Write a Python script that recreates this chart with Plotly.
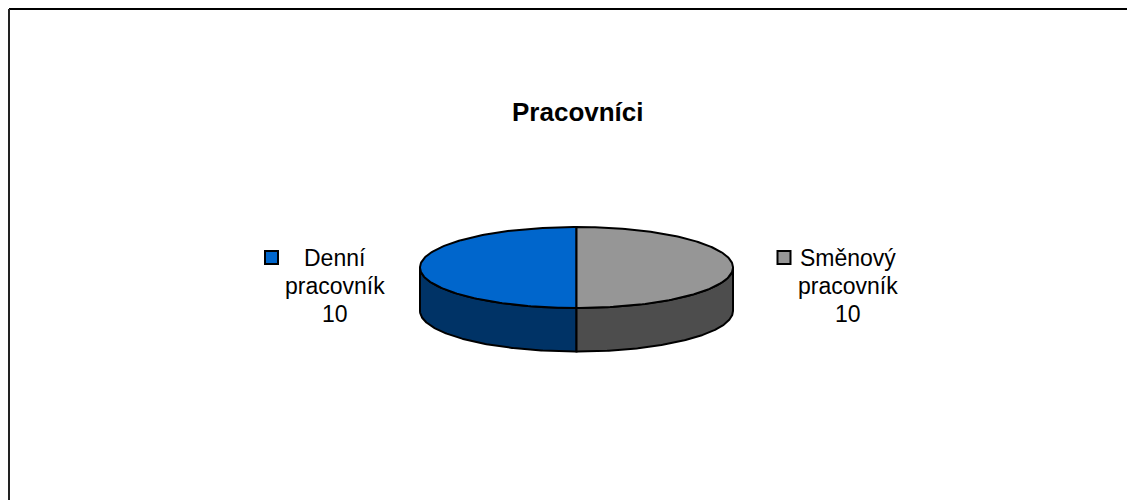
import numpy as np
import plotly.graph_objects as go

# ---- data ----
categories = ["Denní pracovník", "Směnový pracovník"]
values = [10, 10]
label_lines = [["Denní", "pracovník"], ["Směnový", "pracovník"]]
title_text = "Pracovníci"

# ---- style ----
top_colors = ["#0066CC", "#969696"]
side_colors = ["#003366", "#4D4D4D"]
FONT = "Liberation Sans, Arial, sans-serif"

W, H = 1135, 500
OFF = 8  # page body margin: axis ranges shifted so data units == screen px
CX, CY, RX, RY, DEPTH = 576.5, 267.5, 156.5, 40.5, 43.5
label_x = [335, 847.5]
label_y = [258, 286, 314]
key_pos = [(271.5, 257.5), (784, 257.5)]


def arc(a0, a1, dy=0.0, n=160):
    t = np.radians(np.linspace(a0, a1, n))
    return list(CX + RX * np.cos(t)), list(CY - RY * np.sin(t) + dy)


total = float(sum(values))
slices = []
start = 90.0
for v in values:
    sweep = 360.0 * v / total
    slices.append((start, start + sweep))
    start += sweep

fig = go.Figure()

# side walls (front-facing part: 180..360 deg)
for i, (a0, a1) in enumerate(slices):
    for k in (-1, 0, 1):
        lo, hi = 180 + 360 * k, 360 + 360 * k
        s, e = max(a0, lo), min(a1, hi)
        if e - s <= 1e-9:
            continue
        xt, yt = arc(s, e)
        xb, yb = arc(e, s, DEPTH)
        fig.add_trace(go.Scatter(
            x=xt + xb + [xt[0]], y=yt + yb + [yt[0]],
            mode="lines", fill="toself", fillcolor=side_colors[i],
            line=dict(color="black", width=2), hoverinfo="skip",
            showlegend=False))

# top faces
for i, (a0, a1) in enumerate(slices):
    xa, ya = arc(a0, a1)
    fig.add_trace(go.Scatter(
        x=[CX] + xa + [CX], y=[CY] + ya + [CY],
        mode="lines", fill="toself", fillcolor=top_colors[i],
        line=dict(color="black", width=2), name=categories[i],
        hoverinfo="name", showlegend=False))

# legend keys next to labels
for i in range(len(categories)):
    fig.add_trace(go.Scatter(
        x=[key_pos[i][0]], y=[key_pos[i][1]], mode="markers",
        marker=dict(symbol="square", size=13, color=top_colors[i],
                    line=dict(color="black", width=2)),
        hoverinfo="skip", showlegend=False))

annotations = []
for i in range(len(categories)):
    lines = label_lines[i] + [str(values[i])]
    for j, ln in enumerate(lines):
        annotations.append(dict(
            x=label_x[i], y=label_y[j], xref="x", yref="y",
            text=ln, showarrow=False, align="center",
            xanchor="center", yanchor="middle",
            font=dict(family=FONT, size=23, color="black")))

annotations.append(dict(
    x=578, y=112, xref="x", yref="y", text="<b>%s</b>" % title_text,
    showarrow=False, xanchor="center", yanchor="middle",
    font=dict(family=FONT, size=26, color="black")))

shapes = [
    dict(type="line", xref="x", yref="y", x0=9, y0=9, x1=W + OFF, y1=9,
         line=dict(color="black", width=2)),
    dict(type="line", xref="x", yref="y", x0=9, y0=9, x1=9, y1=H + OFF,
         line=dict(color="#222222", width=2)),
]

fig.update_layout(
    width=W, height=H, margin=dict(l=0, r=0, t=0, b=0),
    paper_bgcolor="white", plot_bgcolor="white",
    xaxis=dict(range=[OFF, W + OFF], visible=False, fixedrange=True),
    yaxis=dict(range=[H + OFF, OFF], visible=False, fixedrange=True),
    annotations=annotations, shapes=shapes,
    font=dict(family=FONT),
)

fig.write_html("out.html")
